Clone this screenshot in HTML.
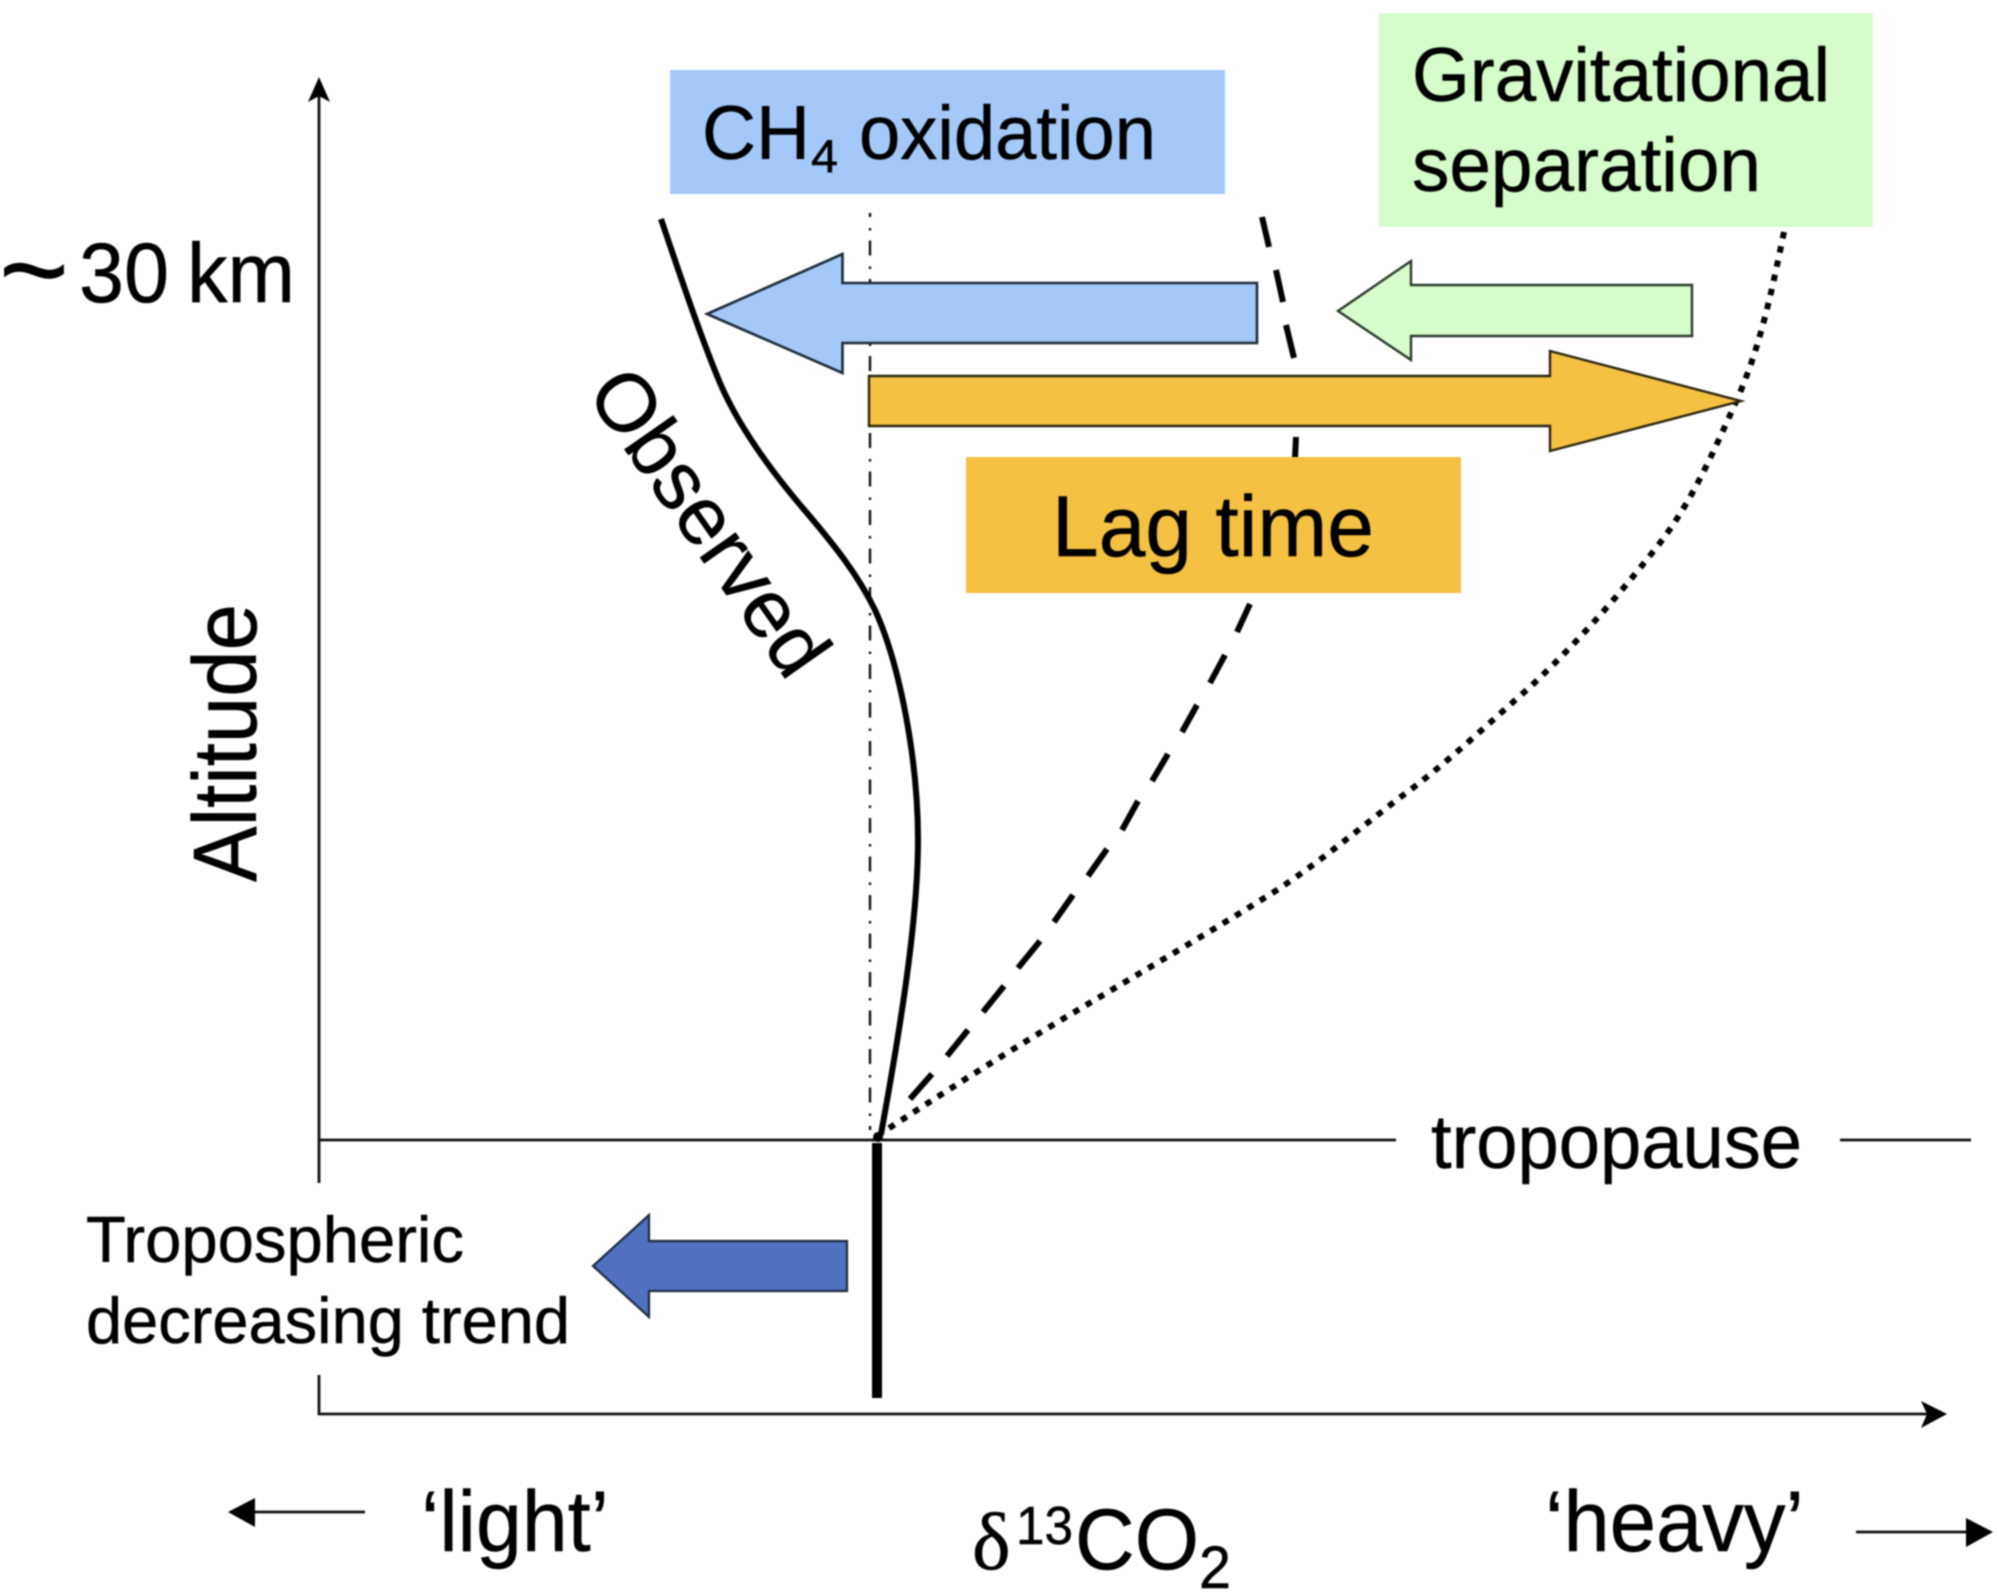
<!DOCTYPE html>
<html><head><meta charset="utf-8"><style>
html,body{margin:0;padding:0;background:#fff;width:1998px;height:1592px;overflow:hidden}
svg{display:block;filter:blur(.9px)}
text{font-family:"Liberation Sans",sans-serif;fill:#000;stroke:#000;stroke-width:.5px}
</style></head><body>
<svg width="1998" height="1592" viewBox="0 0 1998 1592" xmlns="http://www.w3.org/2000/svg">
<rect width="1998" height="1592" fill="#fff"/>
<!-- axes -->
<g stroke="#111" stroke-width="2.8" fill="none">
<path d="M319 88V1183M319 1375V1414H1930"/>
<path d="M319 1140H1396M1840 1140H1971"/>
<path d="M255 1512H365M1856 1532H1970"/>
</g>
<path d="M319 77L330 102L319 96L308 102Z" fill="#000"/>
<path d="M1947 1414L1921 1401L1927 1414L1921 1428Z" fill="#000"/>
<path d="M228 1512L255 1498V1527Z" fill="#000"/>
<path d="M1993 1532L1966 1518V1547Z" fill="#000"/>
<!-- curves -->
<path d="M870 213V1130" stroke="#111" stroke-width="2.4" fill="none" stroke-dasharray="15 11 2.5 10" stroke-dashoffset="11"/>
<g stroke="#000" stroke-width="6" fill="none">
<path d="M1262 217L1269 247M1276 270L1283 302M1286 325L1294 358M1296 437L1295 458"/>
<path d="M1250 604L1237 632M1225 655L1210 683M1197 705L1182 732M1168 754L1152 781M1138 801L1122 830M1107 849L1088 876M1073 895L1054 922M1040 941L1018 968M1004 986L983 1012M968 1030L947 1056M932 1074L910 1099"/>
</g>
<path d="M1784 232C1770 300 1760 345 1739 395C1710 460 1690 505 1656 548C1615 600 1575 645 1529 688C1490 722 1445 765 1402 796C1360 828 1320 862 1274 892C1210 932 1145 970 1083 1007C1010 1050 940 1095 880 1134" stroke="#000" stroke-width="6" fill="none" stroke-dasharray="6.5 8"/>
<path d="M661 219C680 275 700 335 720 383C738 425 770 470 807 513C835 546 858 575 875 610C900 665 918 760 918 840C918 920 900 1030 881 1134" stroke="#000" stroke-width="6" fill="none"/>
<circle cx="878" cy="1137" r="5" fill="#000"/>
<rect x="872" y="1143" width="10" height="255" fill="#000"/>
<!-- boxes -->
<rect x="670" y="70" width="555" height="124" fill="#a4c9f9"/>
<rect x="1379" y="13" width="494" height="214" fill="#d6fccb"/>
<rect x="966" y="457" width="495" height="136" fill="#f4c142"/>
<!-- block arrows -->
<path d="M707 314L842.5 254V283H1257V343H842.5V373Z" fill="#a4c9f9" stroke="#1c2b3a" stroke-width="2.6"/>
<path d="M1338 311L1411 261V285H1692V336H1411V360Z" fill="#d6fccb" stroke="#2a3a2a" stroke-width="2.4"/>
<path d="M869 376H1550V351L1741 401L1550 451V426H869Z" fill="#f4c142" stroke="#2a2410" stroke-width="2.4"/>
<path d="M593 1266L649 1215V1241H847V1291H649V1317Z" fill="#4f71bf" stroke="#1c2b40" stroke-width="2.2"/>
<!-- labels -->
<text x="702" y="159" font-size="76" textLength="108" lengthAdjust="spacingAndGlyphs">CH</text>
<text x="811" y="172" font-size="46" textLength="27" lengthAdjust="spacingAndGlyphs">4</text>
<text x="859" y="159" font-size="76" textLength="297" lengthAdjust="spacingAndGlyphs">oxidation</text>
<text x="1412" y="101" font-size="76" textLength="418" lengthAdjust="spacingAndGlyphs">Gravitational</text>
<text x="1412" y="191" font-size="76" textLength="349" lengthAdjust="spacingAndGlyphs">separation</text>
<text x="1052" y="556" font-size="86" textLength="322" lengthAdjust="spacingAndGlyphs">Lag time</text>
<text x="-1" y="312" font-size="124" textLength="70" lengthAdjust="spacingAndGlyphs">~</text>
<text x="79" y="302" font-size="84" textLength="90" lengthAdjust="spacingAndGlyphs">30</text>
<text x="187" y="302" font-size="84" textLength="108" lengthAdjust="spacingAndGlyphs">km</text>
<text transform="translate(256 882) rotate(-90)" font-size="90" textLength="278" lengthAdjust="spacingAndGlyphs">Altitude</text>
<text transform="translate(585 393) rotate(55)" font-size="82" textLength="354" lengthAdjust="spacingAndGlyphs">Observed</text>
<text x="1431" y="1168" font-size="76" textLength="371" lengthAdjust="spacingAndGlyphs">tropopause</text>
<text x="86" y="1262" font-size="65" textLength="378" lengthAdjust="spacingAndGlyphs">Tropospheric</text>
<text x="86" y="1343" font-size="65" textLength="484" lengthAdjust="spacingAndGlyphs">decreasing trend</text>
<text x="421" y="1551" font-size="86" textLength="188" lengthAdjust="spacingAndGlyphs">‘light’</text>
<text x="1545" y="1551" font-size="86" textLength="259" lengthAdjust="spacingAndGlyphs">‘heavy’</text>
<text x="972" y="1569" font-size="82" style="font-family:'Liberation Serif',serif">δ</text>
<text x="1016" y="1544" font-size="54" textLength="57" lengthAdjust="spacingAndGlyphs">13</text>
<text x="1075" y="1569" font-size="86" textLength="124" lengthAdjust="spacingAndGlyphs">CO</text>
<text x="1199" y="1588" font-size="60" textLength="32" lengthAdjust="spacingAndGlyphs">2</text>
</svg>
</body></html>
